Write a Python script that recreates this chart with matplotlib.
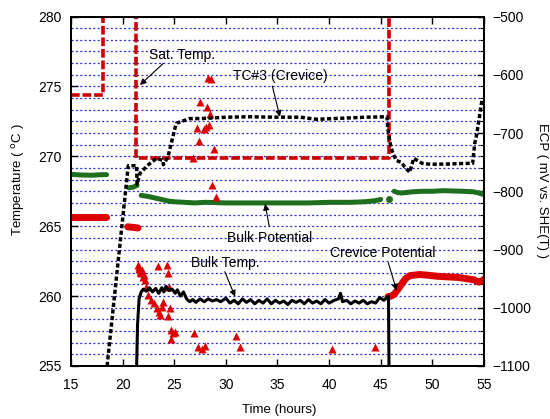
import numpy as np
import matplotlib
matplotlib.use("Agg")
import matplotlib.pyplot as plt

plt.rcParams['font.family'] = ['Liberation Sans', 'DejaVu Sans']
plt.rcParams['font.size'] = 10

# ---- data (time in hours) ----
# saturation temperature (degC), values above 280 are clipped off the top
sat_t = [15, 18.15, 18.15, 21.3, 21.3, 45.8, 45.8]
sat_T = [274.4, 274.4, 290, 290, 269.9, 269.9, 290]

# TC#3 (crevice) temperature (degC)
tc3_t = [18.5, 20.55, 21.36, 21.4, 21.7, 22.5, 23.3, 23.9, 23.95, 24.4, 25.1, 25.2, 25.7,
         26.5, 27.5, 30.1, 32.4, 34.6, 37.2, 38.8, 40.4, 43.6, 45.6, 45.7, 46.0, 46.2,
         46.5, 47.0, 47.3, 47.8, 48.2, 49.0, 49.8, 51.5, 53.6, 53.9, 54.1, 54.3, 54.8, 55.0]
tc3_T = [255.0, 269.33, 269.33, 268.0, 268.8, 269.4, 269.86, 269.7, 269.4, 269.97, 272.1,
         272.36, 272.5, 272.7, 272.7, 272.8, 272.83, 272.8, 272.8, 272.65, 272.7, 272.8,
         272.83, 271.9, 270.6, 270.2, 269.7, 269.57, 269.26, 268.86, 269.86, 269.5, 269.43,
         269.45, 269.5, 269.5, 270.9, 271.6, 274.0, 274.1]

# bulk temperature (degC)
bulk_t = [21.36, 21.45, 21.6, 21.8, 22.0, 22.3, 22.6, 22.9, 23.2, 23.5, 23.8, 24.0, 24.2,
          24.5, 24.8, 25.1, 25.3, 25.6, 25.9, 26.2, 26.5, 26.8, 27.1, 27.5, 27.9, 28.3,
          28.7, 29.1, 29.5, 30.0, 30.4, 30.8, 31.2, 31.6, 32.0, 32.4, 32.8, 33.2, 33.6,
          34.0, 34.4, 34.8, 35.2, 35.6, 36.0, 36.4, 36.8, 37.2, 37.6, 38.0, 38.4, 38.8,
          39.2, 39.6, 40.0, 40.5, 40.9, 41.1, 41.3, 41.7, 42.1, 42.5, 42.9, 43.3, 43.7,
          44.1, 44.5, 44.9, 45.3, 45.75, 45.8]
bulk_T = [255.0, 258.0, 259.8, 260.3, 260.5, 260.35, 260.6, 260.3, 260.55, 260.2, 260.6,
          260.3, 260.7, 260.4, 260.5, 260.2, 260.45, 260.0, 260.3, 259.8, 259.6, 259.75,
          259.55, 259.8, 259.6, 259.8, 259.65, 259.75, 259.6, 259.85, 259.5, 259.7, 259.45,
          259.8, 259.55, 259.75, 259.45, 259.7, 259.5, 259.8, 259.45, 259.7, 259.5, 259.65,
          259.4, 259.7, 259.55, 259.7, 259.45, 259.75, 259.5, 259.65, 259.45, 259.75,
          259.5, 259.7, 259.8, 260.2, 259.6, 259.7, 259.45, 259.65, 259.5, 259.7, 259.45,
          259.6, 259.5, 259.9, 259.7, 260.0, 255.0]

# bulk potential (mV vs SHE(T)), NaN = gap
bpot_t = [15, 16, 17, 18, 18.45, np.nan, 20.6, 21.0, 21.4, np.nan, 21.8, 22.5, 23.0, 23.5,
          24.0, 24.5, 25, 26, 27, 28, 30, 32, 34, 36, 38, 40, 42, 43.5, 44.5, 45.0, np.nan,
          46.3, 46.6, 47.0, 48, 49, 50, 51, 52, 53, 54, 54.5, 55]
bpot_E = [-771, -772, -772.5, -771.5, -771.5, np.nan, -794, -793, -790, np.nan, -807, -809,
          -811, -813, -815, -817, -818, -819, -820, -819, -820, -820, -820, -820, -820,
          -819, -819, -818, -816, -814, np.nan, -800, -802, -803, -801, -800, -800, -799,
          -799.5, -800, -801, -803, -806]
bpot_dot_t = [45.8]
bpot_dot_E = [-813]

# crevice potential (mV vs SHE(T))
cpot_t = [15, 18.45, np.nan, 20.5, 21.5, np.nan, 45.7, 46.0, 46.3, 46.6, 47.0, 47.4, 47.8,
          48.2, 48.8, 49.5, 50.5, 51.5, 52.5, 53.3, 54.0, 54.5, 54.8, 55.0]
cpot_E = [-845, -845, np.nan, -861, -863, np.nan, -981, -980, -977, -970, -960, -950, -945,
          -944, -943, -944, -946, -947, -948, -950, -952, -956, -954, -951]

# scattered potential readings (triangles)
tri_t = [21.5, 21.55, 21.6, 21.7, 21.8, 21.9, 22.0, 22.1, 22.2, 22.3, 23.4, 24.3, 24.4, 24.5,
         22.5, 22.8, 23.0, 23.3, 23.5, 23.6, 23.8, 23.9, 24.6, 24.4, 24.7, 24.9, 25.1, 24.7,
         26.9, 27.3, 27.7, 28.0, 31.0, 31.4, 40.3, 44.4, 28.3, 28.6, 27.5, 28.2, 28.5,
         27.2, 27.9, 28.1, 28.4, 27.4, 28.9, 26.8, 28.7, 29.0]
tri_E = [-927, -930, -933, -938, -941, -935, -947, -944, -953, -964, -929, -927, -941, -964,
         -978, -987, -992, -1001, -1007, -1013, -998, -990, -1001, -1015, -1038, -1044,
         -1041, -1053, -1043, -1067, -1071, -1066, -1049, -1068, -1070, -1067, -605, -607,
         -647, -655, -668, -691, -693, -690, -687, -713, -727, -743, -790, -809]

fig = plt.figure(figsize=(5.5, 4.19), dpi=100)
ax = fig.add_axes([0.129, 0.1265, 0.751, 0.834])
ax2 = ax.twinx()
# temperatures drawn above the potential axis (which holds the grid)
ax.set_zorder(ax2.get_zorder() + 1)
ax.patch.set_visible(False)

red = '#dd0000'
green = '#1e6e1e'

# potentials on right axis
ax2.plot(bpot_t, bpot_E, color=green, lw=3.6, solid_capstyle='round')
ax2.plot(bpot_dot_t, bpot_dot_E, 'o', color=green, ms=4)
ax2.plot(cpot_t, cpot_E, color=red, lw=5, solid_capstyle='round')
ax2.plot(tri_t, tri_E, '^', color=red, ms=6, mec='none')

# temperatures on left axis
ax.plot(sat_t, sat_T, color='#cc0000', lw=2.6, linestyle=(0, (2.4, 0.8)))
ax.plot(tc3_t, tc3_T, color='k', lw=2.5, linestyle=(0, (1.2, 0.7)))
ax.plot(bulk_t, bulk_T, color='k', lw=2.2)

ax.set_xlim(15, 55)
ax.set_ylim(255, 280)
ax2.set_ylim(-1100, -500)
ax.set_xticks(np.arange(15, 56, 5))
ax.set_yticks(np.arange(255, 281, 5))
ax2.set_yticks(np.arange(-1100, -499, 100))
ax2.set_yticks(np.arange(-1100, -499, 20), minor=True)

ax2.grid(True, which='both', axis='y', color='#2a2ad8', lw=0.9, linestyle=(0, (1.6, 1.9)))
ax.tick_params(axis='x', direction='in', top=True, length=5, width=1, pad=9)
ax.tick_params(axis='y', direction='in', length=5, width=1, pad=7)
ax2.tick_params(axis='y', which='major', direction='in', length=5, width=1, pad=6)
ax2.tick_params(axis='y', which='minor', direction='in', length=3, width=0.8)
for a in (ax, ax2):
    for s in a.spines.values():
        s.set_linewidth(1.4)

fig.text(0.507, 0.022, 'Time (hours)', ha='center', va='center', fontsize=9.5)
fig.text(0.034, 0.57, 'Temperature ( $^{\\rm o}$C )', ha='center', va='center',
         rotation=90, fontsize=9.5)
fig.text(0.986, 0.545, 'ECP ( mV vs. SHE(T) )', ha='center', va='center',
         rotation=270, fontsize=9.5)

arrow = dict(arrowstyle='-|>', color='k', lw=0.8, mutation_scale=9, shrinkA=0, shrinkB=0)

ax.text(25.75, 277.25, 'Sat. Temp.', ha='center', va='center')
ax.annotate('', xy=(21.68, 275.1), xytext=(23.94, 276.65), arrowprops=arrow)
ax.text(35.3, 275.74, 'TC#3 (Crevice)', ha='center', va='center')
ax.annotate('', xy=(35.24, 272.83), xytext=(34.5, 275.03), arrowprops=arrow)
ax.text(29.96, 262.35, 'Bulk Temp.', ha='center', va='center')
ax.annotate('', xy=(30.9, 259.96), xytext=(29.9, 261.75), arrowprops=arrow)
ax.text(34.2, 264.15, 'Bulk Potential', ha='center', va='center')
ax.annotate('', xy=(33.8, 266.6), xytext=(34.2, 265.0), arrowprops=arrow)
ax.text(45.17, 263.1, 'Crevice Potential', ha='center', va='center')
ax.annotate('', xy=(46.54, 260.4), xytext=(45.73, 262.4), arrowprops=arrow)

fig.savefig('out.png', dpi=100)
